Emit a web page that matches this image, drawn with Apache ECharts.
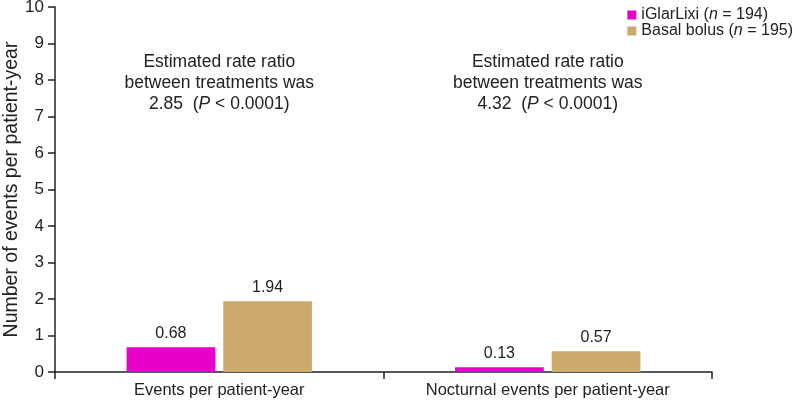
<!DOCTYPE html>
<html>
<head>
<meta charset="utf-8">
<script src="https://cdn.jsdelivr.net/npm/echarts@6/dist/echarts.min.js"></script>
<style>html,body{margin:0;padding:0;background:#fff}#c{width:797px;height:403px}</style>
</head>
<body>
<div id="c"></div>
<script>
const categories = ['Events per patient-year', 'Nocturnal events per patient-year'];
const iglarlixi = [0.68, 0.13];
const basalBolus = [1.94, 0.57];
const seriesNames = ['iGlarLixi', 'Basal bolus'];
const seriesN = [194, 195];
const rateRatios = ['2.85', '4.32'];
const yTicks = [0, 1, 2, 3, 4, 5, 6, 7, 8, 9, 10];

const chart = echarts.init(document.getElementById('c'));
const font = '"Liberation Sans", Arial, sans-serif';
const colors = ['#E600C8', '#CBAA6B'];
const AF = 17.5;

function annot(i) {
  return {
    type: 'text',
    id: 'a' + i,
    style: {
      text: 'Estimated rate ratio\nbetween treatments was\n{n|' + rateRatios[i] + '  (}{i|P}{n| < 0.0001)}',
      rich: { n: { fontFamily: font, fontSize: AF, fill: '#222', lineHeight: 21 }, i: { fontFamily: font, fontSize: AF, fontStyle: 'italic', fill: '#222', lineHeight: 21 } },
      font: AF + 'px ' + font,
      fill: '#222',
      textAlign: 'center',
      textVerticalAlign: 'top',
      lineHeight: 21
    }
  };
}

chart.setOption({
  animation: false,
  textStyle: { fontFamily: font },
  legend: {
    right: -1, top: 2, orient: 'vertical', itemWidth: 9, itemHeight: 9, itemGap: 0,
    icon: 'rect',
    textStyle: {
      fontSize: 16, color: '#222', fontFamily: font,
      rich: { i: { fontStyle: 'italic', fontSize: 16, fontFamily: font, color: '#222' }, n: { fontSize: 16, fontFamily: font, color: '#222' } }
    },
    formatter: function (name) {
      const k = seriesNames.indexOf(name);
      return '{n|' + name + ' (}{i|n}{n| = ' + seriesN[k] + ')}';
    },
    data: seriesNames
  },
  grid: { left: 55, right: 85, top: 7, bottom: 31, containLabel: false, outerBoundsMode: 'none' },
  xAxis: {
    type: 'category', data: categories,
    axisLine: { lineStyle: { color: '#222', width: 1.5 } },
    axisTick: { show: true, length: 7, lineStyle: { color: '#222', width: 1.5 } },
    axisLabel: { fontSize: 16.5, color: '#222', margin: 10, fontFamily: font }
  },
  yAxis: {
    type: 'value', min: 0, max: 10, interval: 1,
    name: 'Number of events per patient-year', nameLocation: 'middle', nameGap: 33, nameMoveOverlap: false,
    nameTextStyle: { fontSize: 19.5, color: '#222', fontFamily: font },
    axisLine: { show: true, lineStyle: { color: '#222', width: 1.5 } },
    axisTick: { show: true, length: 7, lineStyle: { color: '#222', width: 1.5 } },
    axisLabel: { fontSize: 17, color: '#222', margin: 11, fontFamily: font, formatter: v => yTicks.includes(v) ? String(v) : '' },
    splitLine: { show: false }
  },
  series: [
    { name: seriesNames[0], type: 'bar', data: iglarlixi, barWidth: '27%', barGap: '9%', itemStyle: { color: colors[0] },
      label: { show: true, position: 'top', fontSize: 16, color: '#222', distance: 6, formatter: p => p.value.toFixed(2) } },
    { name: seriesNames[1], type: 'bar', data: basalBolus, barWidth: '27%', barGap: '9%', itemStyle: { color: colors[1] },
      label: { show: true, position: 'top', fontSize: 16, color: '#222', distance: 6, formatter: p => p.value.toFixed(2) } }
  ]
});

const els = categories.map((c, i) => {
  const p = chart.convertToPixel({ xAxisIndex: 0, yAxisIndex: 0 }, [i, 8.78]);
  const a = annot(i);
  a.x = p[0]; a.y = p[1];
  return a;
});
chart.setOption({ graphic: els });
</script>
</body>
</html>
